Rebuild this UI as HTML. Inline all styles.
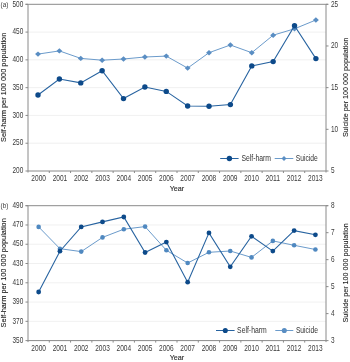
<!DOCTYPE html>
<html><head><meta charset="utf-8"><style>
html,body{margin:0;padding:0;background:#fff;width:350px;height:362px;overflow:hidden}
svg{display:block;will-change:transform}
.t{font-family:"Liberation Sans",sans-serif;font-size:8.2px;fill:#3a3a3a}
.ax{font-family:"Liberation Sans",sans-serif;font-size:7.9px;fill:#1a1a1a;stroke:#1a1a1a;stroke-width:0.1px}
.tg{font-family:"Liberation Sans",sans-serif;font-size:6.4px;fill:#3a3a3a}
.yr{font-family:"Liberation Sans",sans-serif;font-size:7.2px;fill:#2a2a2a;stroke:#2a2a2a;stroke-width:0.12px}
.lg{font-family:"Liberation Sans",sans-serif;font-size:8.6px;fill:#333}
.ax2{font-family:"Liberation Sans",sans-serif;font-size:7.9px;fill:#1a1a1a;stroke:#1a1a1a;stroke-width:0.1px}
</style></head><body>
<svg width="350" height="362" viewBox="0 0 350 362">
<rect width="350" height="362" fill="#fff"/>
<line x1="28.0" y1="32.08" x2="326.0" y2="32.08" stroke="#ececec" stroke-width="0.8"/>
<line x1="28.0" y1="59.87" x2="326.0" y2="59.87" stroke="#ececec" stroke-width="0.8"/>
<line x1="28.0" y1="87.65" x2="326.0" y2="87.65" stroke="#ececec" stroke-width="0.8"/>
<line x1="28.0" y1="115.43" x2="326.0" y2="115.43" stroke="#ececec" stroke-width="0.8"/>
<line x1="28.0" y1="143.22" x2="326.0" y2="143.22" stroke="#ececec" stroke-width="0.8"/>
<line x1="25.5" y1="4.3" x2="328.0" y2="4.3" stroke="#8a8a8a" stroke-width="1"/>
<line x1="28.0" y1="4.3" x2="28.0" y2="172.5" stroke="#8a8a8a" stroke-width="1"/>
<line x1="326.0" y1="4.3" x2="326.0" y2="172.5" stroke="#8a8a8a" stroke-width="1"/>
<line x1="28.0" y1="171.0" x2="326.0" y2="171.0" stroke="#8a8a8a" stroke-width="1"/>
<line x1="25.5" y1="4.30" x2="28.0" y2="4.30" stroke="#8a8a8a" stroke-width="1"/>
<text x="12.50" y="6.55" textLength="10.80" lengthAdjust="spacingAndGlyphs" class="t">500</text>
<line x1="25.5" y1="32.08" x2="28.0" y2="32.08" stroke="#8a8a8a" stroke-width="1"/>
<text x="12.50" y="34.33" textLength="10.80" lengthAdjust="spacingAndGlyphs" class="t">450</text>
<line x1="25.5" y1="59.87" x2="28.0" y2="59.87" stroke="#8a8a8a" stroke-width="1"/>
<text x="12.50" y="62.12" textLength="10.80" lengthAdjust="spacingAndGlyphs" class="t">400</text>
<line x1="25.5" y1="87.65" x2="28.0" y2="87.65" stroke="#8a8a8a" stroke-width="1"/>
<text x="12.50" y="89.90" textLength="10.80" lengthAdjust="spacingAndGlyphs" class="t">350</text>
<line x1="25.5" y1="115.43" x2="28.0" y2="115.43" stroke="#8a8a8a" stroke-width="1"/>
<text x="12.50" y="117.68" textLength="10.80" lengthAdjust="spacingAndGlyphs" class="t">300</text>
<line x1="25.5" y1="143.22" x2="28.0" y2="143.22" stroke="#8a8a8a" stroke-width="1"/>
<text x="12.50" y="145.47" textLength="10.80" lengthAdjust="spacingAndGlyphs" class="t">250</text>
<line x1="25.5" y1="171.00" x2="28.0" y2="171.00" stroke="#8a8a8a" stroke-width="1"/>
<text x="12.50" y="173.25" textLength="10.80" lengthAdjust="spacingAndGlyphs" class="t">200</text>
<line x1="326.0" y1="4.30" x2="328.5" y2="4.30" stroke="#8a8a8a" stroke-width="1"/>
<text x="331.0" y="6.55" textLength="7.20" lengthAdjust="spacingAndGlyphs" class="t">25</text>
<line x1="326.0" y1="45.97" x2="328.5" y2="45.97" stroke="#8a8a8a" stroke-width="1"/>
<text x="331.0" y="48.22" textLength="7.20" lengthAdjust="spacingAndGlyphs" class="t">20</text>
<line x1="326.0" y1="87.65" x2="328.5" y2="87.65" stroke="#8a8a8a" stroke-width="1"/>
<text x="331.0" y="89.90" textLength="7.20" lengthAdjust="spacingAndGlyphs" class="t">15</text>
<line x1="326.0" y1="129.32" x2="328.5" y2="129.32" stroke="#8a8a8a" stroke-width="1"/>
<text x="331.0" y="131.57" textLength="7.20" lengthAdjust="spacingAndGlyphs" class="t">10</text>
<line x1="326.0" y1="171.00" x2="328.5" y2="171.00" stroke="#8a8a8a" stroke-width="1"/>
<text x="331.0" y="173.25" textLength="3.60" lengthAdjust="spacingAndGlyphs" class="t">5</text>
<line x1="49.29" y1="171.0" x2="49.29" y2="173.0" stroke="#8a8a8a" stroke-width="1"/>
<line x1="70.57" y1="171.0" x2="70.57" y2="173.0" stroke="#8a8a8a" stroke-width="1"/>
<line x1="91.86" y1="171.0" x2="91.86" y2="173.0" stroke="#8a8a8a" stroke-width="1"/>
<line x1="113.14" y1="171.0" x2="113.14" y2="173.0" stroke="#8a8a8a" stroke-width="1"/>
<line x1="134.43" y1="171.0" x2="134.43" y2="173.0" stroke="#8a8a8a" stroke-width="1"/>
<line x1="155.71" y1="171.0" x2="155.71" y2="173.0" stroke="#8a8a8a" stroke-width="1"/>
<line x1="177.00" y1="171.0" x2="177.00" y2="173.0" stroke="#8a8a8a" stroke-width="1"/>
<line x1="198.29" y1="171.0" x2="198.29" y2="173.0" stroke="#8a8a8a" stroke-width="1"/>
<line x1="219.57" y1="171.0" x2="219.57" y2="173.0" stroke="#8a8a8a" stroke-width="1"/>
<line x1="240.86" y1="171.0" x2="240.86" y2="173.0" stroke="#8a8a8a" stroke-width="1"/>
<line x1="262.14" y1="171.0" x2="262.14" y2="173.0" stroke="#8a8a8a" stroke-width="1"/>
<line x1="283.43" y1="171.0" x2="283.43" y2="173.0" stroke="#8a8a8a" stroke-width="1"/>
<line x1="304.71" y1="171.0" x2="304.71" y2="173.0" stroke="#8a8a8a" stroke-width="1"/>
<text x="31.34" y="181.40" textLength="14.6" lengthAdjust="spacingAndGlyphs" class="t">2000</text>
<text x="52.63" y="181.40" textLength="14.6" lengthAdjust="spacingAndGlyphs" class="t">2001</text>
<text x="73.91" y="181.40" textLength="14.6" lengthAdjust="spacingAndGlyphs" class="t">2002</text>
<text x="95.20" y="181.40" textLength="14.6" lengthAdjust="spacingAndGlyphs" class="t">2003</text>
<text x="116.49" y="181.40" textLength="14.6" lengthAdjust="spacingAndGlyphs" class="t">2004</text>
<text x="137.77" y="181.40" textLength="14.6" lengthAdjust="spacingAndGlyphs" class="t">2005</text>
<text x="159.06" y="181.40" textLength="14.6" lengthAdjust="spacingAndGlyphs" class="t">2006</text>
<text x="180.34" y="181.40" textLength="14.6" lengthAdjust="spacingAndGlyphs" class="t">2007</text>
<text x="201.63" y="181.40" textLength="14.6" lengthAdjust="spacingAndGlyphs" class="t">2008</text>
<text x="222.91" y="181.40" textLength="14.6" lengthAdjust="spacingAndGlyphs" class="t">2009</text>
<text x="244.20" y="181.40" textLength="14.6" lengthAdjust="spacingAndGlyphs" class="t">2010</text>
<text x="265.49" y="181.40" textLength="14.6" lengthAdjust="spacingAndGlyphs" class="t">2011</text>
<text x="286.77" y="181.40" textLength="14.6" lengthAdjust="spacingAndGlyphs" class="t">2012</text>
<text x="308.06" y="181.40" textLength="14.6" lengthAdjust="spacingAndGlyphs" class="t">2013</text>
<text x="177.00" y="190.50" text-anchor="middle" class="yr">Year</text>
<text x="0.6" y="6.50" class="tg">(a)</text>
<text transform="translate(6.2,87.35) rotate(-90)" x="-54.6" textLength="109.2" lengthAdjust="spacingAndGlyphs" class="ax">Self-harm per 100 000 population</text>
<text transform="translate(347.9,87.35) rotate(-90)" x="-49.6" textLength="99.2" lengthAdjust="spacingAndGlyphs" class="ax2">Suicide per 100 000 population</text>
<polyline points="38.00,54.10 59.38,50.90 80.75,58.40 102.13,60.20 123.51,59.00 144.88,57.00 166.26,56.10 187.64,68.10 209.02,52.70 230.39,45.00 251.77,52.70 273.15,35.20 294.52,28.80 315.90,20.00" fill="none" stroke="#6b9bcb" stroke-width="1.0"/>
<path d="M38.00 51.40L40.95 54.10L38.00 56.80L35.05 54.10Z" fill="#5a8ec3"/>
<path d="M59.38 48.20L62.33 50.90L59.38 53.60L56.43 50.90Z" fill="#5a8ec3"/>
<path d="M80.75 55.70L83.70 58.40L80.75 61.10L77.80 58.40Z" fill="#5a8ec3"/>
<path d="M102.13 57.50L105.08 60.20L102.13 62.90L99.18 60.20Z" fill="#5a8ec3"/>
<path d="M123.51 56.30L126.46 59.00L123.51 61.70L120.56 59.00Z" fill="#5a8ec3"/>
<path d="M144.88 54.30L147.83 57.00L144.88 59.70L141.94 57.00Z" fill="#5a8ec3"/>
<path d="M166.26 53.40L169.21 56.10L166.26 58.80L163.31 56.10Z" fill="#5a8ec3"/>
<path d="M187.64 65.40L190.59 68.10L187.64 70.80L184.69 68.10Z" fill="#5a8ec3"/>
<path d="M209.02 50.00L211.97 52.70L209.02 55.40L206.07 52.70Z" fill="#5a8ec3"/>
<path d="M230.39 42.30L233.34 45.00L230.39 47.70L227.44 45.00Z" fill="#5a8ec3"/>
<path d="M251.77 50.00L254.72 52.70L251.77 55.40L248.82 52.70Z" fill="#5a8ec3"/>
<path d="M273.15 32.50L276.10 35.20L273.15 37.90L270.20 35.20Z" fill="#5a8ec3"/>
<path d="M294.52 26.10L297.47 28.80L294.52 31.50L291.57 28.80Z" fill="#5a8ec3"/>
<path d="M315.90 17.30L318.85 20.00L315.90 22.70L312.95 20.00Z" fill="#5a8ec3"/>
<polyline points="38.00,95.00 59.38,79.00 80.75,82.90 102.13,70.70 123.51,98.60 144.88,87.00 166.26,91.40 187.64,106.00 209.02,106.30 230.39,104.60 251.77,65.90 273.15,61.60 294.52,25.70 315.90,58.60" fill="none" stroke="#2763a0" stroke-width="1.1"/>
<circle cx="38.00" cy="95.00" r="2.7" fill="#0d4a8a"/>
<circle cx="59.38" cy="79.00" r="2.7" fill="#0d4a8a"/>
<circle cx="80.75" cy="82.90" r="2.7" fill="#0d4a8a"/>
<circle cx="102.13" cy="70.70" r="2.7" fill="#0d4a8a"/>
<circle cx="123.51" cy="98.60" r="2.7" fill="#0d4a8a"/>
<circle cx="144.88" cy="87.00" r="2.7" fill="#0d4a8a"/>
<circle cx="166.26" cy="91.40" r="2.7" fill="#0d4a8a"/>
<circle cx="187.64" cy="106.00" r="2.7" fill="#0d4a8a"/>
<circle cx="209.02" cy="106.30" r="2.7" fill="#0d4a8a"/>
<circle cx="230.39" cy="104.60" r="2.7" fill="#0d4a8a"/>
<circle cx="251.77" cy="65.90" r="2.7" fill="#0d4a8a"/>
<circle cx="273.15" cy="61.60" r="2.7" fill="#0d4a8a"/>
<circle cx="294.52" cy="25.70" r="2.7" fill="#0d4a8a"/>
<circle cx="315.90" cy="58.60" r="2.7" fill="#0d4a8a"/>
<line x1="220.2" y1="158.5" x2="238.6" y2="158.5" stroke="#2763a0" stroke-width="1"/>
<circle cx="229.40" cy="158.5" r="2.7" fill="#0d4a8a"/>
<text x="241.4" y="161.20" class="lg" textLength="29.6" lengthAdjust="spacingAndGlyphs">Self-harm</text>
<line x1="274.7" y1="158.5" x2="293.3" y2="158.5" stroke="#6b9bcb" stroke-width="1"/>
<path d="M284.00 156.05L286.45 158.50L284.00 160.95L281.55 158.50Z" fill="#5a8ec3"/>
<text x="295.8" y="161.20" class="lg" textLength="22" lengthAdjust="spacingAndGlyphs">Suicide</text>
<line x1="28.0" y1="224.97" x2="326.0" y2="224.97" stroke="#ececec" stroke-width="0.8"/>
<line x1="28.0" y1="244.24" x2="326.0" y2="244.24" stroke="#ececec" stroke-width="0.8"/>
<line x1="28.0" y1="263.51" x2="326.0" y2="263.51" stroke="#ececec" stroke-width="0.8"/>
<line x1="28.0" y1="282.79" x2="326.0" y2="282.79" stroke="#ececec" stroke-width="0.8"/>
<line x1="28.0" y1="302.06" x2="326.0" y2="302.06" stroke="#ececec" stroke-width="0.8"/>
<line x1="28.0" y1="321.33" x2="326.0" y2="321.33" stroke="#ececec" stroke-width="0.8"/>
<line x1="25.5" y1="205.7" x2="328.0" y2="205.7" stroke="#8a8a8a" stroke-width="1"/>
<line x1="28.0" y1="205.7" x2="28.0" y2="342.1" stroke="#8a8a8a" stroke-width="1"/>
<line x1="326.0" y1="205.7" x2="326.0" y2="342.1" stroke="#8a8a8a" stroke-width="1"/>
<line x1="28.0" y1="340.6" x2="326.0" y2="340.6" stroke="#8a8a8a" stroke-width="1"/>
<line x1="25.5" y1="205.70" x2="28.0" y2="205.70" stroke="#8a8a8a" stroke-width="1"/>
<text x="12.50" y="207.95" textLength="10.80" lengthAdjust="spacingAndGlyphs" class="t">490</text>
<line x1="25.5" y1="224.97" x2="28.0" y2="224.97" stroke="#8a8a8a" stroke-width="1"/>
<text x="12.50" y="227.22" textLength="10.80" lengthAdjust="spacingAndGlyphs" class="t">470</text>
<line x1="25.5" y1="244.24" x2="28.0" y2="244.24" stroke="#8a8a8a" stroke-width="1"/>
<text x="12.50" y="246.49" textLength="10.80" lengthAdjust="spacingAndGlyphs" class="t">450</text>
<line x1="25.5" y1="263.51" x2="28.0" y2="263.51" stroke="#8a8a8a" stroke-width="1"/>
<text x="12.50" y="265.76" textLength="10.80" lengthAdjust="spacingAndGlyphs" class="t">430</text>
<line x1="25.5" y1="282.79" x2="28.0" y2="282.79" stroke="#8a8a8a" stroke-width="1"/>
<text x="12.50" y="285.04" textLength="10.80" lengthAdjust="spacingAndGlyphs" class="t">410</text>
<line x1="25.5" y1="302.06" x2="28.0" y2="302.06" stroke="#8a8a8a" stroke-width="1"/>
<text x="12.50" y="304.31" textLength="10.80" lengthAdjust="spacingAndGlyphs" class="t">390</text>
<line x1="25.5" y1="321.33" x2="28.0" y2="321.33" stroke="#8a8a8a" stroke-width="1"/>
<text x="12.50" y="323.58" textLength="10.80" lengthAdjust="spacingAndGlyphs" class="t">370</text>
<line x1="25.5" y1="340.60" x2="28.0" y2="340.60" stroke="#8a8a8a" stroke-width="1"/>
<text x="12.50" y="342.85" textLength="10.80" lengthAdjust="spacingAndGlyphs" class="t">350</text>
<line x1="326.0" y1="205.70" x2="328.5" y2="205.70" stroke="#8a8a8a" stroke-width="1"/>
<text x="331.0" y="207.95" textLength="3.60" lengthAdjust="spacingAndGlyphs" class="t">8</text>
<line x1="326.0" y1="232.68" x2="328.5" y2="232.68" stroke="#8a8a8a" stroke-width="1"/>
<text x="331.0" y="234.93" textLength="3.60" lengthAdjust="spacingAndGlyphs" class="t">7</text>
<line x1="326.0" y1="259.66" x2="328.5" y2="259.66" stroke="#8a8a8a" stroke-width="1"/>
<text x="331.0" y="261.91" textLength="3.60" lengthAdjust="spacingAndGlyphs" class="t">6</text>
<line x1="326.0" y1="286.64" x2="328.5" y2="286.64" stroke="#8a8a8a" stroke-width="1"/>
<text x="331.0" y="288.89" textLength="3.60" lengthAdjust="spacingAndGlyphs" class="t">5</text>
<line x1="326.0" y1="313.62" x2="328.5" y2="313.62" stroke="#8a8a8a" stroke-width="1"/>
<text x="331.0" y="315.87" textLength="3.60" lengthAdjust="spacingAndGlyphs" class="t">4</text>
<line x1="326.0" y1="340.60" x2="328.5" y2="340.60" stroke="#8a8a8a" stroke-width="1"/>
<text x="331.0" y="342.85" textLength="3.60" lengthAdjust="spacingAndGlyphs" class="t">3</text>
<line x1="49.29" y1="340.6" x2="49.29" y2="342.6" stroke="#8a8a8a" stroke-width="1"/>
<line x1="70.57" y1="340.6" x2="70.57" y2="342.6" stroke="#8a8a8a" stroke-width="1"/>
<line x1="91.86" y1="340.6" x2="91.86" y2="342.6" stroke="#8a8a8a" stroke-width="1"/>
<line x1="113.14" y1="340.6" x2="113.14" y2="342.6" stroke="#8a8a8a" stroke-width="1"/>
<line x1="134.43" y1="340.6" x2="134.43" y2="342.6" stroke="#8a8a8a" stroke-width="1"/>
<line x1="155.71" y1="340.6" x2="155.71" y2="342.6" stroke="#8a8a8a" stroke-width="1"/>
<line x1="177.00" y1="340.6" x2="177.00" y2="342.6" stroke="#8a8a8a" stroke-width="1"/>
<line x1="198.29" y1="340.6" x2="198.29" y2="342.6" stroke="#8a8a8a" stroke-width="1"/>
<line x1="219.57" y1="340.6" x2="219.57" y2="342.6" stroke="#8a8a8a" stroke-width="1"/>
<line x1="240.86" y1="340.6" x2="240.86" y2="342.6" stroke="#8a8a8a" stroke-width="1"/>
<line x1="262.14" y1="340.6" x2="262.14" y2="342.6" stroke="#8a8a8a" stroke-width="1"/>
<line x1="283.43" y1="340.6" x2="283.43" y2="342.6" stroke="#8a8a8a" stroke-width="1"/>
<line x1="304.71" y1="340.6" x2="304.71" y2="342.6" stroke="#8a8a8a" stroke-width="1"/>
<text x="31.34" y="351.00" textLength="14.6" lengthAdjust="spacingAndGlyphs" class="t">2000</text>
<text x="52.63" y="351.00" textLength="14.6" lengthAdjust="spacingAndGlyphs" class="t">2001</text>
<text x="73.91" y="351.00" textLength="14.6" lengthAdjust="spacingAndGlyphs" class="t">2002</text>
<text x="95.20" y="351.00" textLength="14.6" lengthAdjust="spacingAndGlyphs" class="t">2003</text>
<text x="116.49" y="351.00" textLength="14.6" lengthAdjust="spacingAndGlyphs" class="t">2004</text>
<text x="137.77" y="351.00" textLength="14.6" lengthAdjust="spacingAndGlyphs" class="t">2005</text>
<text x="159.06" y="351.00" textLength="14.6" lengthAdjust="spacingAndGlyphs" class="t">2006</text>
<text x="180.34" y="351.00" textLength="14.6" lengthAdjust="spacingAndGlyphs" class="t">2007</text>
<text x="201.63" y="351.00" textLength="14.6" lengthAdjust="spacingAndGlyphs" class="t">2008</text>
<text x="222.91" y="351.00" textLength="14.6" lengthAdjust="spacingAndGlyphs" class="t">2009</text>
<text x="244.20" y="351.00" textLength="14.6" lengthAdjust="spacingAndGlyphs" class="t">2010</text>
<text x="265.49" y="351.00" textLength="14.6" lengthAdjust="spacingAndGlyphs" class="t">2011</text>
<text x="286.77" y="351.00" textLength="14.6" lengthAdjust="spacingAndGlyphs" class="t">2012</text>
<text x="308.06" y="351.00" textLength="14.6" lengthAdjust="spacingAndGlyphs" class="t">2013</text>
<text x="177.00" y="360.10" text-anchor="middle" class="yr">Year</text>
<text x="0.6" y="207.90" class="tg">(b)</text>
<text transform="translate(6.2,272.85) rotate(-90)" x="-54.6" textLength="109.2" lengthAdjust="spacingAndGlyphs" class="ax">Self-harm per 100 000 population</text>
<text transform="translate(347.9,272.85) rotate(-90)" x="-49.6" textLength="99.2" lengthAdjust="spacingAndGlyphs" class="ax2">Suicide per 100 000 population</text>
<polyline points="38.64,226.90 59.93,248.70 81.22,251.60 102.51,237.40 123.80,229.20 145.09,226.60 166.38,250.30 187.67,263.00 208.96,252.30 230.25,251.00 251.54,257.40 272.83,240.90 294.12,245.30 315.41,249.50" fill="none" stroke="#6b9bcb" stroke-width="1.0"/>
<circle cx="38.64" cy="226.90" r="2.3" fill="#4f88c0"/>
<circle cx="59.93" cy="248.70" r="2.3" fill="#4f88c0"/>
<circle cx="81.22" cy="251.60" r="2.3" fill="#4f88c0"/>
<circle cx="102.51" cy="237.40" r="2.3" fill="#4f88c0"/>
<circle cx="123.80" cy="229.20" r="2.3" fill="#4f88c0"/>
<circle cx="145.09" cy="226.60" r="2.3" fill="#4f88c0"/>
<circle cx="166.38" cy="250.30" r="2.3" fill="#4f88c0"/>
<circle cx="187.67" cy="263.00" r="2.3" fill="#4f88c0"/>
<circle cx="208.96" cy="252.30" r="2.3" fill="#4f88c0"/>
<circle cx="230.25" cy="251.00" r="2.3" fill="#4f88c0"/>
<circle cx="251.54" cy="257.40" r="2.3" fill="#4f88c0"/>
<circle cx="272.83" cy="240.90" r="2.3" fill="#4f88c0"/>
<circle cx="294.12" cy="245.30" r="2.3" fill="#4f88c0"/>
<circle cx="315.41" cy="249.50" r="2.3" fill="#4f88c0"/>
<polyline points="38.64,292.00 59.93,251.20 81.22,226.90 102.51,221.90 123.80,217.00 145.09,252.50 166.38,242.10 187.67,282.20 208.96,232.90 230.25,266.80 251.54,236.30 272.83,251.10 294.12,230.60 315.41,234.80" fill="none" stroke="#2763a0" stroke-width="1.1"/>
<circle cx="38.64" cy="292.00" r="2.4" fill="#0d4a8a"/>
<circle cx="59.93" cy="251.20" r="2.4" fill="#0d4a8a"/>
<circle cx="81.22" cy="226.90" r="2.4" fill="#0d4a8a"/>
<circle cx="102.51" cy="221.90" r="2.4" fill="#0d4a8a"/>
<circle cx="123.80" cy="217.00" r="2.4" fill="#0d4a8a"/>
<circle cx="145.09" cy="252.50" r="2.4" fill="#0d4a8a"/>
<circle cx="166.38" cy="242.10" r="2.4" fill="#0d4a8a"/>
<circle cx="187.67" cy="282.20" r="2.4" fill="#0d4a8a"/>
<circle cx="208.96" cy="232.90" r="2.4" fill="#0d4a8a"/>
<circle cx="230.25" cy="266.80" r="2.4" fill="#0d4a8a"/>
<circle cx="251.54" cy="236.30" r="2.4" fill="#0d4a8a"/>
<circle cx="272.83" cy="251.10" r="2.4" fill="#0d4a8a"/>
<circle cx="294.12" cy="230.60" r="2.4" fill="#0d4a8a"/>
<circle cx="315.41" cy="234.80" r="2.4" fill="#0d4a8a"/>
<line x1="216.0" y1="330.5" x2="234.6" y2="330.5" stroke="#2763a0" stroke-width="1"/>
<circle cx="225.30" cy="330.5" r="2.55" fill="#0d4a8a"/>
<text x="237.1" y="333.20" class="lg" textLength="29.6" lengthAdjust="spacingAndGlyphs">Self-harm</text>
<line x1="275.3" y1="330.5" x2="293.3" y2="330.5" stroke="#6b9bcb" stroke-width="1"/>
<circle cx="284.30" cy="330.5" r="2.55" fill="#5a8ec3"/>
<text x="295.9" y="333.20" class="lg" textLength="22" lengthAdjust="spacingAndGlyphs">Suicide</text>
</svg>
</body></html>
